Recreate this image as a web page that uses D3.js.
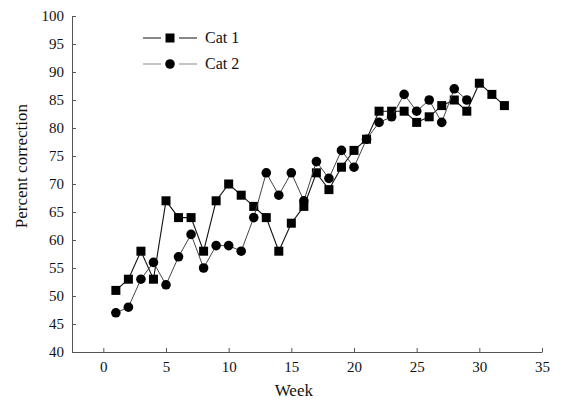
<!DOCTYPE html>
<html lang="en">
<head>
  <meta charset="UTF-8">
  <script src="https://d3js.org/d3.v7.min.js"></script>
  <title>Percent correction by week</title>
  <style>
    body { margin: 0; background: #fff; }
    text { font-family: "Liberation Serif", "Times New Roman", serif; }
  </style>
</head>
<body>
  <script>
    // data
    const weeks1 = d3.range(1, 33)
    const cat1 = [51, 53, 58, 53, 67, 64, 64, 58, 67, 70, 68, 66, 64, 58, 63, 66,
                  72, 69, 73, 76, 78, 83, 83, 83, 81, 82, 84, 85, 83, 88, 86, 84]
    const weeks2 = d3.range(1, 30)
    const cat2 = [47, 48, 53, 56, 52, 57, 61, 55, 59, 59, 58, 64, 72, 68, 72, 67,
                  74, 71, 76, 73, 78, 81, 82, 86, 83, 85, 81, 87, 85]
    const xTicks = [0, 5, 10, 15, 20, 25, 30, 35]
    const yTicks = d3.range(40, 101, 5)

    const width = 564, height = 401
    const margin = {top: 16, right: 22, bottom: 49, left: 72}

    const svg = d3.select("body").append("svg")
                  .attr("width", width)
                  .attr("height", height)

    /* scales */
    const xScale = d3.scaleLinear()
                    .domain([-2.5, 35])
                    .range([margin.left, width - margin.right])
    const yScale = d3.scaleLinear()
                    .domain([40, 100])
                    .range([height - margin.bottom, margin.top])

    /* axes */
    const xAxis = d3.axisBottom(xScale).tickValues(xTicks).tickSizeInner(-4).tickSizeOuter(0).tickPadding(9)
    const yAxis = d3.axisLeft(yScale).tickValues(yTicks).tickSizeInner(-4).tickSizeOuter(0).tickPadding(9)

    const gx = svg.append("g")
      .attr("transform", `translate(0, ${height - margin.bottom})`)
      .call(xAxis)
    const gy = svg.append("g")
      .attr("transform", `translate(${margin.left}, 0)`)
      .call(yAxis)

    for (const g of [gx, gy]) {
      g.select(".domain").attr("stroke", "#555")
      g.selectAll(".tick line").attr("stroke", "#555")
      g.selectAll(".tick text").attr("font-size", 15)
        .attr("font-family", "Liberation Serif, serif").attr("fill", "#111")
    }
    gy.selectAll(".tick text").attr("dx", 1)

    svg.append("text")
      .attr("x", xScale(15.2)).attr("y", 396)
      .attr("text-anchor", "middle").attr("font-size", 17).attr("fill", "#111")
      .text("Week")
    svg.append("text")
      .attr("transform", `translate(27, ${yScale(73.2)}) rotate(-90)`)
      .attr("text-anchor", "middle").attr("font-size", 17).attr("fill", "#111")
      .text("Percent correction")

    /* series */
    const series = [
      {name: "Cat 1", x: weeks1, y: cat1, shape: "square", stroke: "#111", lw: 1.1},
      {name: "Cat 2", x: weeks2, y: cat2, shape: "circle", stroke: "#444", lw: 1}
    ]

    const line = d3.line().x(d => xScale(d[0])).y(d => yScale(d[1]))

    function drawMarker(g, shape, cx, cy) {
      if (shape === "square") {
        g.append("rect").attr("x", cx - 4.5).attr("y", cy - 4.5)
          .attr("width", 9).attr("height", 9).attr("fill", "#000")
      } else {
        g.append("circle").attr("cx", cx).attr("cy", cy).attr("r", 4.8).attr("fill", "#000")
      }
    }

    series.forEach(s => {
      const pts = s.x.map((w, i) => [w, s.y[i]])
      svg.append("path")
        .datum(pts)
        .attr("fill", "none")
        .attr("stroke", s.stroke)
        .attr("stroke-width", s.lw)
        .attr("d", line)
      const g = svg.append("g")
      pts.forEach(p => drawMarker(g, s.shape, xScale(p[0]), yScale(p[1])))
    })

    /* legend */
    const legend = svg.append("g")
    series.forEach((s, i) => {
      const ly = 38 + i * 26
      legend.append("line").attr("x1", 143).attr("x2", 161).attr("y1", ly).attr("y2", ly)
        .attr("stroke", i === 0 ? "#111" : "#888").attr("stroke-width", 1)
      legend.append("line").attr("x1", 179).attr("x2", 197).attr("y1", ly).attr("y2", ly)
        .attr("stroke", i === 0 ? "#111" : "#888").attr("stroke-width", 1)
      drawMarker(legend, s.shape, 170, ly)
      legend.append("text").attr("x", 205).attr("y", ly + 5)
        .attr("font-size", 16).attr("fill", "#111").text(s.name)
    })
  </script>
</body>
</html>
